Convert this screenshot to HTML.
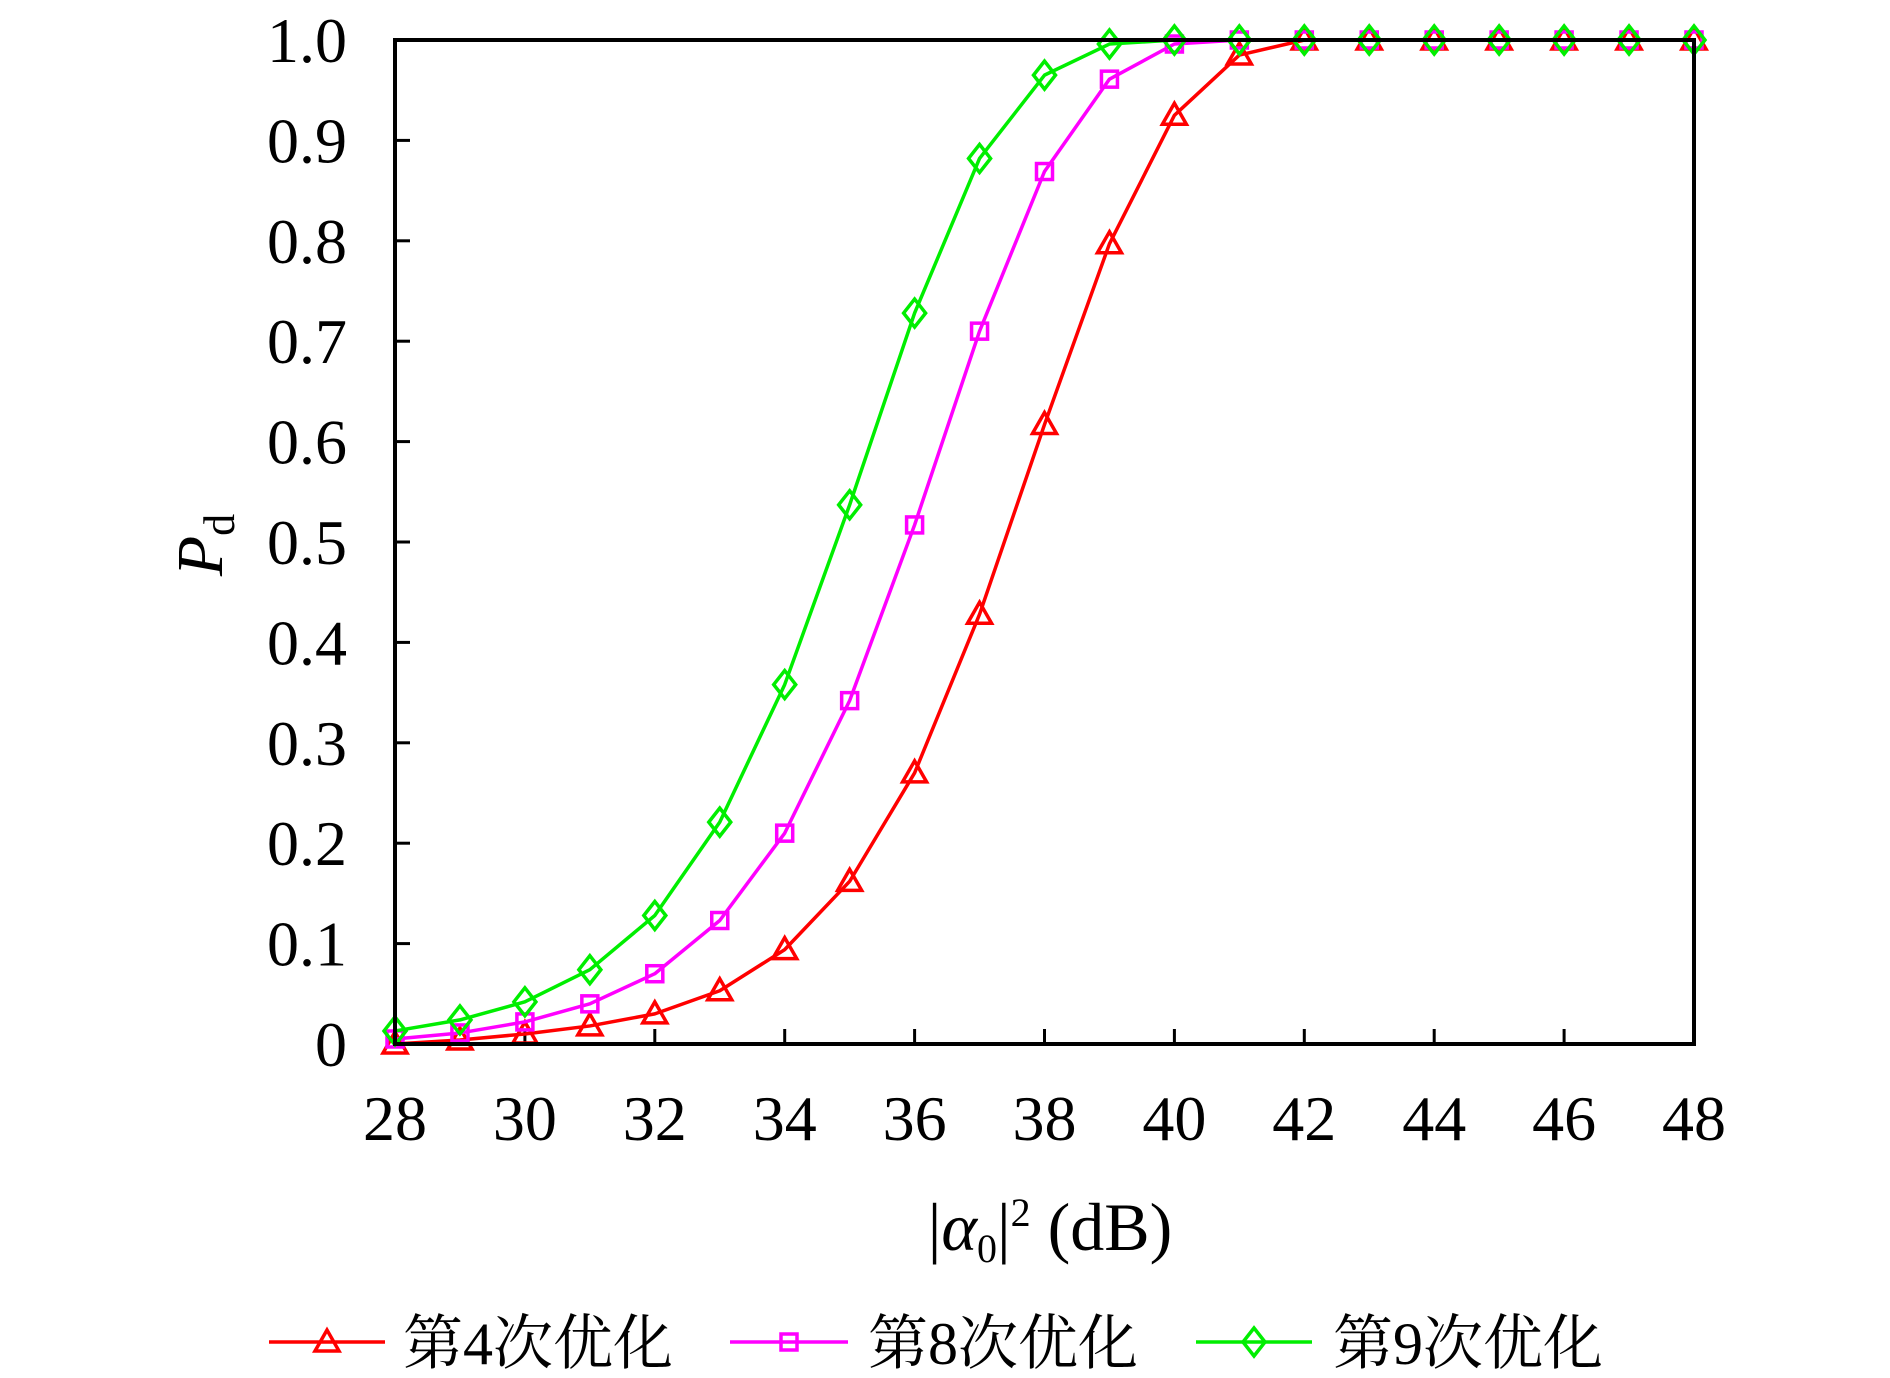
<!DOCTYPE html>
<html><head><meta charset="utf-8"><style>
html,body{margin:0;padding:0;background:#fff;}
svg{display:block;}
text{font-family:"Liberation Serif","Noto Serif CJK SC",serif;fill:#000;}
</style></head><body>
<svg id="chart" width="1890" height="1378" viewBox="0 0 1890 1378" xmlns="http://www.w3.org/2000/svg">
<g id="plot"></g>
</svg>
<script>
const xValues=[28,29,30,31,32,33,34,35,36,37,38,39,40,41,42,43,44,45,46,47,48];
const series4=[0.0,0.004,0.01,0.018,0.03,0.053,0.094,0.162,0.27,0.428,0.617,0.797,0.925,0.985,1,1,1,1,1,1,1];
const series8=[0.005,0.011,0.022,0.04,0.07,0.123,0.21,0.342,0.517,0.71,0.869,0.961,0.996,1,1,1,1,1,1,1,1];
const series9=[0.013,0.024,0.042,0.074,0.128,0.221,0.358,0.537,0.728,0.882,0.965,0.996,1,1,1,1,1,1,1,1,1];
const xTicks=[28,30,32,34,36,38,40,42,44,46,48];
const yTicks=[0,0.1,0.2,0.3,0.4,0.5,0.6,0.7,0.8,0.9,1.0];
const yTickLabels=["0","0.1","0.2","0.3","0.4","0.5","0.6","0.7","0.8","0.9","1.0"];
const legendLabels=["第4次优化","第8次优化","第9次优化"];

const L=395,R=1694,T=40,B=1044;
const xs=v=>L+(v-28)/(48-28)*(R-L);
const ys=v=>B-v*(B-T);
const NS="http://www.w3.org/2000/svg";
const g=document.getElementById('plot');
function mk(tag,attrs,parent){const e=document.createElementNS(NS,tag);for(const k in attrs)e.setAttribute(k,attrs[k]);(parent||g).appendChild(e);return e;}

xTicks.forEach((t,i)=>{
  const tk=mk('line',{x1:xs(t),x2:xs(t),y1:B,y2:B-15,stroke:'#000','stroke-width':3});
  
  
  const lb=mk('text',{x:xs(t),y:1140,'font-size':64,'text-anchor':'middle'});
  lb.textContent=t;
  
  
});
yTicks.forEach((t,i)=>{
  const tk=mk('line',{x1:L,x2:L+15,y1:ys(t),y2:ys(t),stroke:'#000','stroke-width':3});
  
  
  const lb=mk('text',{x:347,y:ys(t)+22,'font-size':64,'text-anchor':'end'});
  lb.textContent=yTickLabels[i];
  
  
});

function marker(type,x,y,color,parent){
  let e;
  if(type==='tri') e=mk('polygon',{points:`${x},${y-12} ${x-12},${y+9} ${x+12},${y+9}`,fill:'none',stroke:color,'stroke-width':3.5},parent);
  else if(type==='sq') e=mk('rect',{x:x-8,y:y-8,width:16,height:16,fill:'none',stroke:color,'stroke-width':3.5},parent);
  else e=mk('polygon',{points:`${x},${y-14} ${x+11},${y} ${x},${y+14} ${x-11},${y}`,fill:'none',stroke:color,'stroke-width':3.5},parent);
  return e;
}
const defs=[[series4,'#ff0000','tri','series-4th'],[series8,'#ff00ff','sq','series-8th'],[series9,'#00ee00','dia','series-9th']];
defs.forEach(([vals,color,type,name])=>{
  const sg=mk('g',{});
  
  
  const pts=vals.map((v,i)=>xs(xValues[i])+','+ys(v)).join(' ');
  const pl=mk('polyline',{points:pts,fill:'none',stroke:color,'stroke-width':3.5,'stroke-linejoin':'round'},sg);
  
  
  vals.forEach((v,i)=>{
    const m=marker(type,xs(xValues[i]),ys(v),color,sg);
    
    
  });
});

const fr=mk('rect',{x:L,y:T,width:R-L,height:B-T,fill:'none',stroke:'#000','stroke-width':4});



const xt=mk('text',{x:1050,y:1250,'font-size':68,'text-anchor':'middle'});
xt.innerHTML='|<tspan font-style="italic">α</tspan><tspan font-size="40" dy="12">0</tspan><tspan dy="-12">|</tspan><tspan font-size="40" dy="-24">2</tspan><tspan dy="24"> (dB)</tspan>';


const yt=mk('text',{transform:'translate(222,545) rotate(-90)','font-size':66,'text-anchor':'middle'});
yt.innerHTML='<tspan font-style="italic">P</tspan><tspan font-size="44" dy="12">d</tspan>';



const lx=[[269,385,403],[730,848,868],[1196,1312,1333]];
defs.forEach(([vals,color,type,name],i)=>{
  const lg=mk('g',{});
  
  
  mk('line',{x1:lx[i][0],x2:lx[i][1],y1:1342,y2:1342,stroke:color,'stroke-width':3.5},lg);
  marker(type,(lx[i][0]+lx[i][1])/2,1342,color,lg);
  const t=mk('text',{x:lx[i][2],y:1364,'font-size':60},lg);
  t.textContent=legendLabels[i];
});
</script>
</body></html>
